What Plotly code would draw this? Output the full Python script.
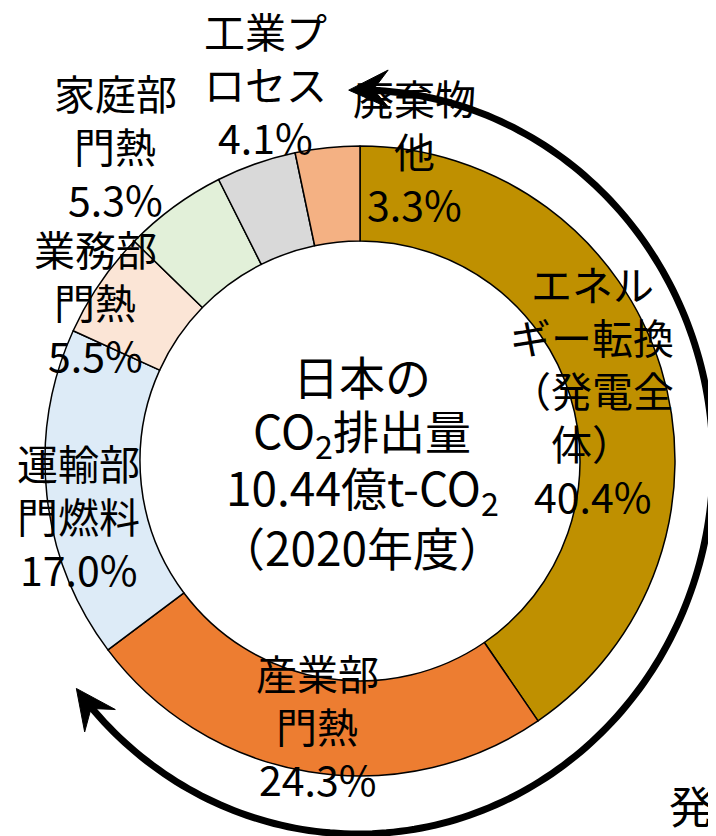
import numpy as np
import plotly.graph_objects as go

# ---- data ----
categories = ["エネルギー転換（発電全体）", "産業部門熱", "運輸部門燃料", "業務部門熱",
              "家庭部門熱", "工業プロセス", "廃棄物他"]
label_lines = [["エネル", "ギー転換", "（発電全", "体）"], ["産業部", "門熱"], ["運輸部", "門燃料"],
               ["業務部", "門熱"], ["家庭部", "門熱"], ["工業プ", "ロセス"], ["廃棄物", "他"]]
shares = [40.4, 24.3, 17.0, 5.5, 5.3, 4.1, 3.3]
colors = ["#BF9000", "#ED7D31", "#DDEBF7", "#FBE5D6", "#E2F0D9", "#D9D9D9", "#F4B183"]
center_lines = ["日本の", "CO<sub>2</sub>排出量", "10.44億t-CO<sub>2</sub>", "（2020年度）"]

# page body has an 8px margin: figure is drawn offset by 8px
OFF = 8
W, H = 716 - OFF, 836 - OFF
CX, CY, R_OUT, R_IN = 360, 461, 315, 220
FONT = "Noto Sans CJK JP"

def px(x):
    return (x - OFF) / W

def py(y):
    return 1 - (y - OFF) / H

fig = go.Figure()
fig.add_trace(go.Pie(
    labels=categories, values=shares, sort=False, direction="clockwise", rotation=0,
    hole=R_IN / R_OUT, textinfo="none", hoverinfo="label+percent",
    marker=dict(colors=colors, line=dict(color="black", width=1.5)),
    domain=dict(x=[px(CX - R_OUT), px(CX + R_OUT)], y=[py(CY + R_OUT), py(CY - R_OUT)]),
    showlegend=False,
))

# first-line centre of each label block (screen pixels), line step
label_pos = [(592, 283), (317, 672), (78, 462), (95, 248), (115, 92), (265, 30), (415, 97)]
STEP = 53
annotations = []

def add_line(x, y, txt, size):
    annotations.append(dict(x=px(x), y=py(y), xref="paper", yref="paper", text=txt,
                            showarrow=False, xanchor="center", yanchor="middle",
                            font=dict(family=FONT, size=size, color="black")))

for lines, v, (x, y) in zip(label_lines, shares, label_pos):
    for i, ln in enumerate(lines + [f"{v:.1f}%"]):
        add_line(x, y + i * STEP, ln, 41)

for i, ln in enumerate(center_lines):
    add_line(362, 375 + i * 57, ln, 46)

annotations.append(dict(x=px(667), y=py(805), xref="paper", yref="paper", text="発",
                        showarrow=False, xanchor="left", yanchor="middle",
                        font=dict(family=FONT, size=44, color="black")))

# ---- curved double arrow (decoration) ----
ecx, ecy, rx, ry = 358, 462, 355, 372
t0, t1 = np.radians(-1.5), np.radians(232.5)

def ept(t):
    return ecx + rx * np.sin(t), ecy - ry * np.cos(t)

def etan(t):
    dx, dy = rx * np.cos(t), ry * np.sin(t)
    n = np.hypot(dx, dy)
    return dx / n, dy / n

L, HW = 40, 19
trim = (L * 0.55) / 362.0
ts = np.linspace(t0 + trim, t1 - trim, 200)
pts = [ept(t) for t in ts]
path = "M " + " L ".join(f"{px(x):.5f},{py(y):.5f}" for x, y in pts)
shapes = [dict(type="path", xref="paper", yref="paper", path=path,
               line=dict(color="black", width=7))]

def head(t, sign):
    tx, ty = ept(t)
    dx, dy = etan(t)
    dx, dy = dx * sign, dy * sign
    nx, ny = -dy, dx
    b1 = (tx - L * dx + HW * nx, ty - L * dy + HW * ny)
    nt = (tx - 0.62 * L * dx, ty - 0.62 * L * dy)
    b2 = (tx - L * dx - HW * nx, ty - L * dy - HW * ny)
    p = [(tx, ty), b1, nt, b2]
    return "M " + " L ".join(f"{px(x):.5f},{py(y):.5f}" for x, y in p) + " Z"

shapes.append(dict(type="path", xref="paper", yref="paper", path=head(t0, -1),
                   fillcolor="black", line=dict(color="black", width=1)))
shapes.append(dict(type="path", xref="paper", yref="paper", path=head(t1, 1),
                   fillcolor="black", line=dict(color="black", width=1)))

fig.update_layout(width=W, height=H, margin=dict(l=0, r=0, t=0, b=0),
                  paper_bgcolor="white", plot_bgcolor="white",
                  annotations=annotations, shapes=shapes)
fig.write_html("out.html")
